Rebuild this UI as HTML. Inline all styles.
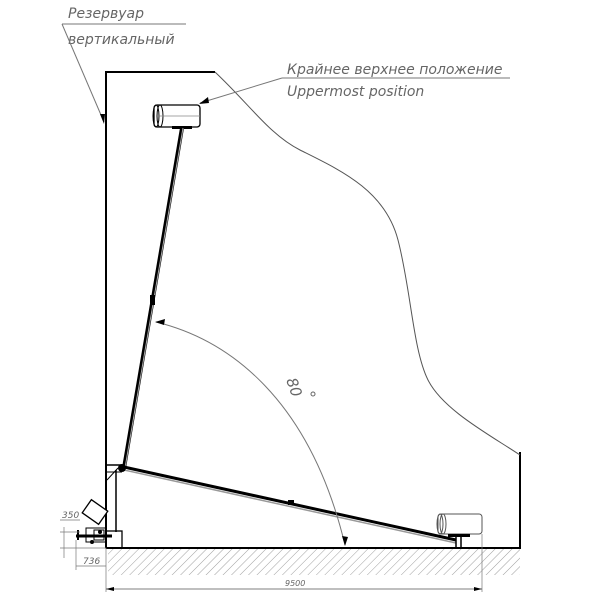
<!DOCTYPE html>
<html><head><meta charset="utf-8"><style>
html,body{margin:0;padding:0;background:#fff;width:600px;height:600px;overflow:hidden}
text{font-family:"DejaVu Sans","Liberation Sans",sans-serif;font-style:italic;fill:#666}
</style></head><body>
<svg width="600" height="600" viewBox="0 0 600 600" xmlns="http://www.w3.org/2000/svg">
<defs>
<pattern id="h" width="6" height="6" patternUnits="userSpaceOnUse" patternTransform="rotate(45)">
<line x1="0" y1="0" x2="0" y2="6" stroke="#888" stroke-width="0.8"/>
</pattern>
</defs>
<rect x="108" y="549" width="412" height="26" fill="url(#h)"/>
<line x1="106" y1="548" x2="521" y2="548" stroke="#000" stroke-width="2"/>
<polyline points="106,548 106,72 215,72" fill="none" stroke="#000" stroke-width="2"/>
<line x1="520" y1="452" x2="520" y2="548" stroke="#000" stroke-width="2"/>
<path d="M215,72 C250,105 270,135 300,150 C340,170 385,190 398,240 C411,290 413,350 428,380 C443,410 490,435 520,455" fill="none" stroke="#555" stroke-width="1"/>
<text x="68" y="18" font-size="14">Резервуар</text>
<text x="68" y="44" font-size="14">вертикальный</text>
<line x1="62" y1="24" x2="186" y2="24" stroke="#777" stroke-width="1"/>
<line x1="62" y1="24" x2="104" y2="122" stroke="#777" stroke-width="1"/>
<polygon points="104,124 100,114 105,114" fill="#000"/>
<text x="287" y="74" font-size="14">Крайнее верхнее положение</text>
<text x="287" y="96" font-size="14">Uppermost position</text>
<line x1="282" y1="78" x2="510" y2="78" stroke="#777" stroke-width="1"/>
<line x1="282" y1="78" x2="200" y2="103" stroke="#777" stroke-width="1"/>
<polygon points="199,104 208,97 209,103" fill="#000"/>
<rect x="154" y="105" width="46" height="22" rx="3" fill="#fff" stroke="#000" stroke-width="1.3"/>
<ellipse cx="156" cy="116" rx="3" ry="11" fill="none" stroke="#000"/>
<ellipse cx="160" cy="116" rx="3" ry="11" fill="none" stroke="#000"/>
<line x1="160" y1="116" x2="200" y2="116" stroke="#888" stroke-width="0.7"/>
<rect x="172" y="126" width="20" height="3" fill="#000"/>
<line x1="182" y1="128" x2="124" y2="468" stroke="#000" stroke-width="4"/>
<line x1="183" y1="128" x2="125" y2="468" stroke="#aaa" stroke-width="1"/>
<rect x="150" y="295" width="5" height="10" fill="#000"/>
<line x1="124" y1="467" x2="456" y2="540" stroke="#000" stroke-width="3"/>
<line x1="124" y1="470" x2="456" y2="543" stroke="#999" stroke-width="1.5"/>
<rect x="288" y="500" width="6" height="5" fill="#000"/>
<rect x="438" y="514" width="44" height="20" rx="3" fill="#fff" stroke="#555" stroke-width="1"/>
<ellipse cx="440" cy="524" rx="3" ry="10" fill="none" stroke="#555"/>
<ellipse cx="443" cy="524" rx="3" ry="10" fill="none" stroke="#555"/>
<rect x="448" y="534" width="22" height="3" fill="#000"/>
<line x1="456" y1="537" x2="456" y2="548" stroke="#000" stroke-width="1.5"/>
<line x1="461" y1="537" x2="461" y2="548" stroke="#000" stroke-width="1.5"/>
<line x1="107" y1="465" x2="122" y2="465" stroke="#000" stroke-width="1.5"/>
<line x1="107" y1="472" x2="122" y2="472" stroke="#000" stroke-width="1"/>
<line x1="107" y1="480" x2="118" y2="468" stroke="#000" stroke-width="1"/>
<circle cx="122" cy="468" r="4" fill="#000"/>
<line x1="116" y1="470" x2="116" y2="532" stroke="#000" stroke-width="1.5"/>
<rect x="106" y="531" width="16" height="17" fill="none" stroke="#000" stroke-width="1.3"/>
<rect x="85" y="504" width="20" height="16" transform="rotate(35 95 512)" fill="#fff" stroke="#000" stroke-width="1.3"/>
<rect x="86" y="528" width="20" height="14" fill="none" stroke="#000"/>
<rect x="94" y="530" width="10" height="10" fill="none" stroke="#000"/>
<line x1="76" y1="536" x2="112" y2="536" stroke="#000" stroke-width="3"/>
<circle cx="92" cy="542" r="2" fill="#000"/>
<circle cx="100" cy="532" r="2" fill="#000"/>
<line x1="78" y1="530" x2="78" y2="540" stroke="#000" stroke-width="2"/>
<text x="62" y="518" font-size="9">350</text>
<line x1="60" y1="520" x2="80" y2="520" stroke="#777" stroke-width="0.7"/>
<line x1="64" y1="527" x2="64" y2="558" stroke="#777" stroke-width="0.7"/>
<line x1="60" y1="532" x2="80" y2="532" stroke="#777" stroke-width="0.7"/>
<line x1="60" y1="548" x2="106" y2="548" stroke="#777" stroke-width="0.7"/>
<text x="83" y="564" font-size="9">736</text>
<line x1="76" y1="540" x2="76" y2="570" stroke="#777" stroke-width="0.7"/>
<line x1="76" y1="566" x2="106" y2="566" stroke="#777" stroke-width="0.7"/>
<line x1="106" y1="548" x2="106" y2="592" stroke="#777" stroke-width="0.7"/>
<line x1="482" y1="534" x2="482" y2="592" stroke="#777" stroke-width="0.7"/>
<line x1="106" y1="589" x2="482" y2="589" stroke="#555" stroke-width="0.8"/>
<polygon points="482,589 474,587 474,591" fill="#000"/>
<polygon points="106,589 114,587 114,591" fill="#000"/>
<text x="285" y="586" font-size="8">9500</text>
<path d="M156,322 C230,340 310,400 345,545" fill="none" stroke="#777" stroke-width="1"/>
<polygon points="155,322 165,319 164,325" fill="#000"/>
<polygon points="345,546 342,536 348,537" fill="#000"/>
<text x="0" y="0" font-size="15" transform="translate(286,380) rotate(70)">80</text>
<circle cx="313" cy="394" r="2" fill="none" stroke="#666"/>
</svg>
</body></html>
